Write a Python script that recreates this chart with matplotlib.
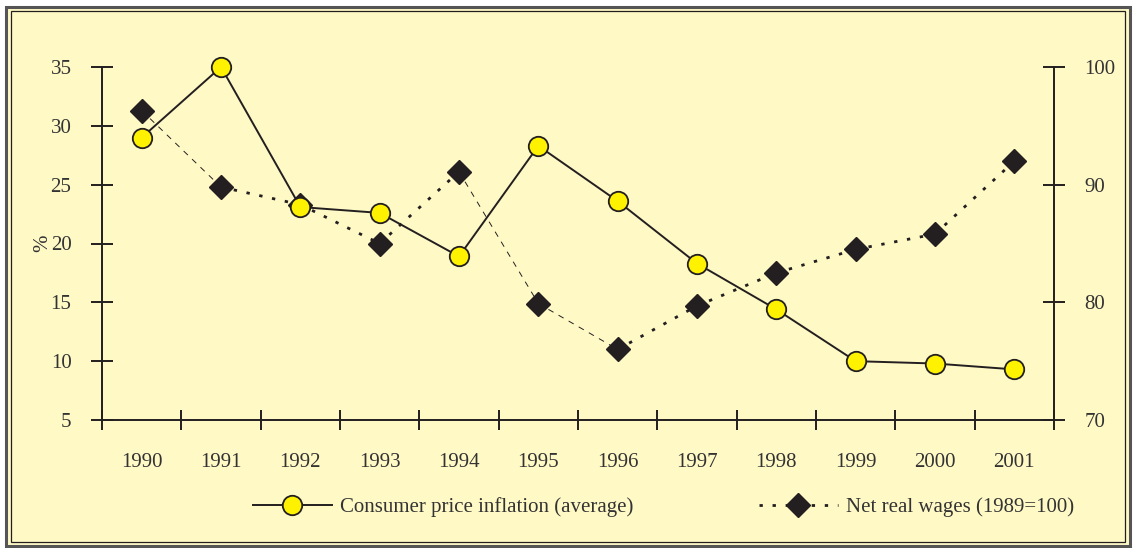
import matplotlib.pyplot as plt
from matplotlib.patches import Rectangle
from matplotlib.lines import Line2D
import numpy as np

years = ['1990', '1991', '1992', '1993', '1994', '1995', '1996', '1997', '1998', '1999', '2000', '2001']
inflation = [29.0, 35.0, 23.1, 22.6, 18.9, 28.3, 23.6, 18.3, 14.4, 10.0, 9.8, 9.3]
wages = [96.3, 89.8, 88.3, 85.0, 91.1, 79.9, 76.0, 79.7, 82.5, 84.5, 85.8, 92.0]
# which wage segments are drawn with the thin dashed stroke
thin_segments = [0, 4, 5]

plt.rcParams['font.family'] = ['Liberation Serif', 'DejaVu Serif']
bg = '#FFF9C6'
ink = '#231F20'
yellow = '#FFF200'

fig = plt.figure(figsize=(11.33, 5.48), dpi=100)
fig.patch.set_facecolor('white')
W, H = 1133, 548

# double border frame
fig.patches.append(Rectangle((6 / W, 2 / H), 1124 / W, 539 / H, transform=fig.transFigure,
                             facecolor=bg, edgecolor='#555555', lw=2.2, zorder=-10))
fig.patches.append(Rectangle((11 / W, 6 / H), 1114 / W, 531 / H, transform=fig.transFigure,
                             facecolor='none', edgecolor=ink, lw=0.9, zorder=-9))

ax = fig.add_axes([102 / W, 1 - 420 / H, (1054 - 102) / W, (420 - 67) / H])
ax.set_facecolor('none')
x = np.arange(len(years))

ax.plot(x, inflation, color=ink, lw=1.4, marker='o', ms=14, mfc=yellow, mec=ink, mew=1.3, zorder=5,
        clip_on=False)
ax.set_ylim(5, 35)
ax.set_xlim(-0.5, len(years) - 0.5)
ax.set_yticks([5, 10, 15, 20, 25, 30, 35])
ax.set_xticks(np.arange(len(years) + 1) - 0.5)
ax.set_xticklabels([])
ax.set_xticks(x, minor=True)
ax.set_xticklabels(years, minor=True)
ax.tick_params(axis='x', which='minor', length=0, pad=24)
ax.tick_params(axis='x', which='major', direction='inout', length=14, width=1.4, color=ink)
ax.tick_params(axis='y', direction='inout', length=16, width=1.4, color=ink, pad=14)
ax.tick_params(which='both', labelsize=15, labelcolor='#333333')
ax.set_ylabel('%', fontsize=15, color='#333333')
ax.yaxis.set_label_coords(-0.052, 0.5)
for s in ['top', 'right']:
    ax.spines[s].set_visible(False)
for s in ['left', 'bottom']:
    ax.spines[s].set_linewidth(1.4)
    ax.spines[s].set_color(ink)

ax2 = ax.twinx()
ax2.set_ylim(70, 100)
ax2.set_yticks([70, 80, 90, 100])
for i in range(len(years) - 1):
    if i in thin_segments:
        ax2.plot(x[i:i + 2], wages[i:i + 2], color=ink, lw=0.7, ls=(0, (6, 6)), zorder=3)
    else:
        ax2.plot(x[i:i + 2], wages[i:i + 2], color=ink, lw=2.0, ls=(0, (1.2, 3.5)), zorder=3)
ax2.plot(x, wages, ls='none', marker='D', ms=12.5, color=ink, zorder=4, clip_on=False)
ax2.tick_params(axis='y', direction='inout', length=16, width=1.4, color=ink, pad=14,
                labelsize=15, labelcolor='#333333')
for s in ['top', 'left', 'bottom']:
    ax2.spines[s].set_visible(False)
ax2.spines['right'].set_linewidth(1.4)
ax2.spines['right'].set_color(ink)
ax.set_zorder(ax2.get_zorder() + 1)

h1 = Line2D([], [], color=ink, lw=1.4, marker='o', ms=14, mfc=yellow, mec=ink, mew=1.3)
h2 = Line2D([], [], color=ink, lw=2.0, ls=(0, (1.2, 3.5)), marker='D', ms=12, mfc=ink, mec=ink)
fig.legend([h1, h2], ['Consumer price inflation (average)', 'Net real wages (1989=100)'],
           loc='center', bbox_to_anchor=(0.5856, 1 - 507 / H), ncol=2, frameon=False,
           fontsize=15, labelcolor='#333333', handlelength=3.8, columnspacing=6.0, handletextpad=0.4)

plt.savefig('out.png', dpi=100, facecolor='white')
